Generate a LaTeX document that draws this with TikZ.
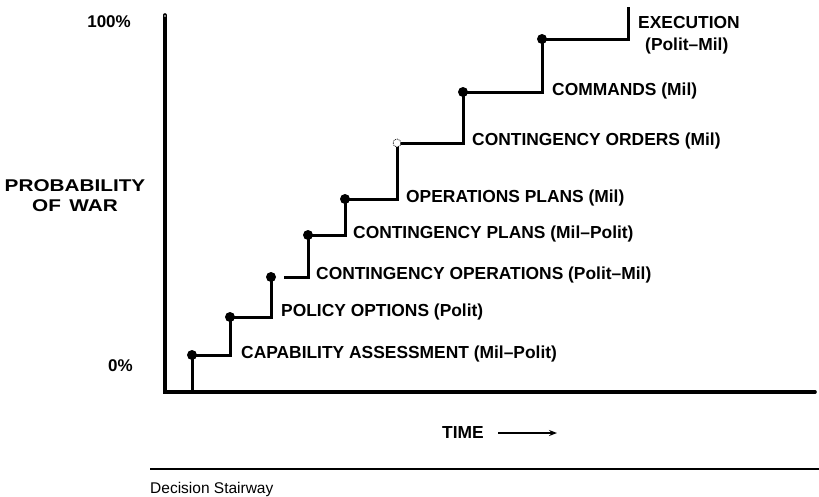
\documentclass[tikz,border=0pt]{standalone}
\usepackage{fontspec}
\setmainfont{Liberation Sans}
\newfontfamily\axisfont[FakeStretch=1.22]{Liberation Sans}
\usetikzlibrary{arrows.meta}

\begin{document}
\begin{tikzpicture}[x=1pt,y=-1pt,
  axisline/.style={line width=3.6pt},
  stair/.style={line width=3pt},
  dot/.style={circle,fill=black,inner sep=0pt,minimum size=10pt},
  opendot/.style={circle,draw=black,densely dotted,line width=0.8pt,fill=white,inner sep=0pt,minimum size=8pt},
  lab/.style={anchor=west,inner sep=0pt,font=\bfseries\fontsize{17.4}{19}\selectfont},
  numlab/.style={anchor=east,inner sep=0pt,font=\bfseries\fontsize{17}{19}\selectfont},
  axlab/.style={inner sep=0pt,font=\axisfont\bfseries\fontsize{17}{20}\selectfont},
  caption/.style={anchor=west,inner sep=0pt,font=\fontsize{15.5}{18}\selectfont}]
\useasboundingbox (0,0) rectangle (819,496);

% axes
\coordinate (ytop) at (165,15);
\coordinate (origin) at (165,392);
\coordinate (xend) at (815,392);
\draw[axisline,line cap=round] (ytop) -- (origin) -- (xend);
\node[circle,fill=white,inner sep=0pt,minimum size=1.6pt] (ytip) at (165,16) {};

% stair corners and step points
\coordinate (s0) at (192,392);
\node[dot] (d1) at (192,355) {};
\coordinate (c1) at (230,355);
\node[dot] (d2) at (230,317) {};
\coordinate (c2) at (271,317);
\node[dot] (d3) at (271,277) {};
\coordinate (g3) at (284,277);
\coordinate (c3) at (308,277);
\node[dot] (d4) at (308,235) {};
\coordinate (c4) at (345,235);
\node[dot] (d5) at (345,199) {};
\coordinate (c5) at (397,199);
\coordinate (c6) at (463,143);
\node[dot] (d7) at (463,92) {};
\coordinate (c7) at (542,92);
\node[dot] (d8) at (542,39) {};
\coordinate (c8) at (628,39);
\coordinate (stop) at (628,7);

% the stairway
\draw[stair] (s0) -- (d1.center) -- (c1) -- (d2.center) -- (c2) -- (d3.center);
\draw[stair] (g3) -- (c3) -- (d4.center) -- (c4) -- (d5.center) -- (c5) -- (397,143);
\draw[stair] (397,143) -- (c6) -- (d7.center) -- (c7) -- (d8.center) -- (c8) -- (stop);
\node[opendot] (d6) at (397,143) {};

% step labels
\node[lab] (l1) at (241,354) {CAPABILITY ASSESSMENT (Mil–Polit)};
\node[lab] (l2) at (281,312) {POLICY OPTIONS (Polit)};
\node[lab] (l3) at (316,275) {CONTINGENCY OPERATIONS (Polit–Mil)};
\node[lab] (l4) at (353,234) {CONTINGENCY PLANS (Mil–Polit)};
\node[lab] (l5) at (406,198) {OPERATIONS PLANS (Mil)};
\node[lab] (l6) at (472,141) {CONTINGENCY ORDERS (Mil)};
\node[lab] (l7) at (552,91) {COMMANDS (Mil)};
\node[lab] (l8) at (638,23) {EXECUTION};
\node[lab] (l9) at (645,46) {(Polit–Mil)};

% axis labels
\node[numlab] (p100) at (131,22) {100\%};
\node[axlab,align=center] (pw) at (75,196) {PROBABILITY\\OF\hspace{0.5em}WAR};
\node[numlab] (p0) at (133,366) {0\%};
\node[lab] (time) at (442,433) {TIME};
\coordinate (ta) at (498,433);
\coordinate (tb) at (557,433);
\draw[line width=1.4pt,-{Stealth[length=8pt,width=6pt]}] (ta) -- (tb);

% rule and caption
\coordinate (r1) at (150,469);
\coordinate (r2) at (819,469);
\draw[line width=1.5pt] (r1) -- (r2);
\node[caption] (cap) at (150,489) {Decision Stairway};
\end{tikzpicture}
\end{document}
